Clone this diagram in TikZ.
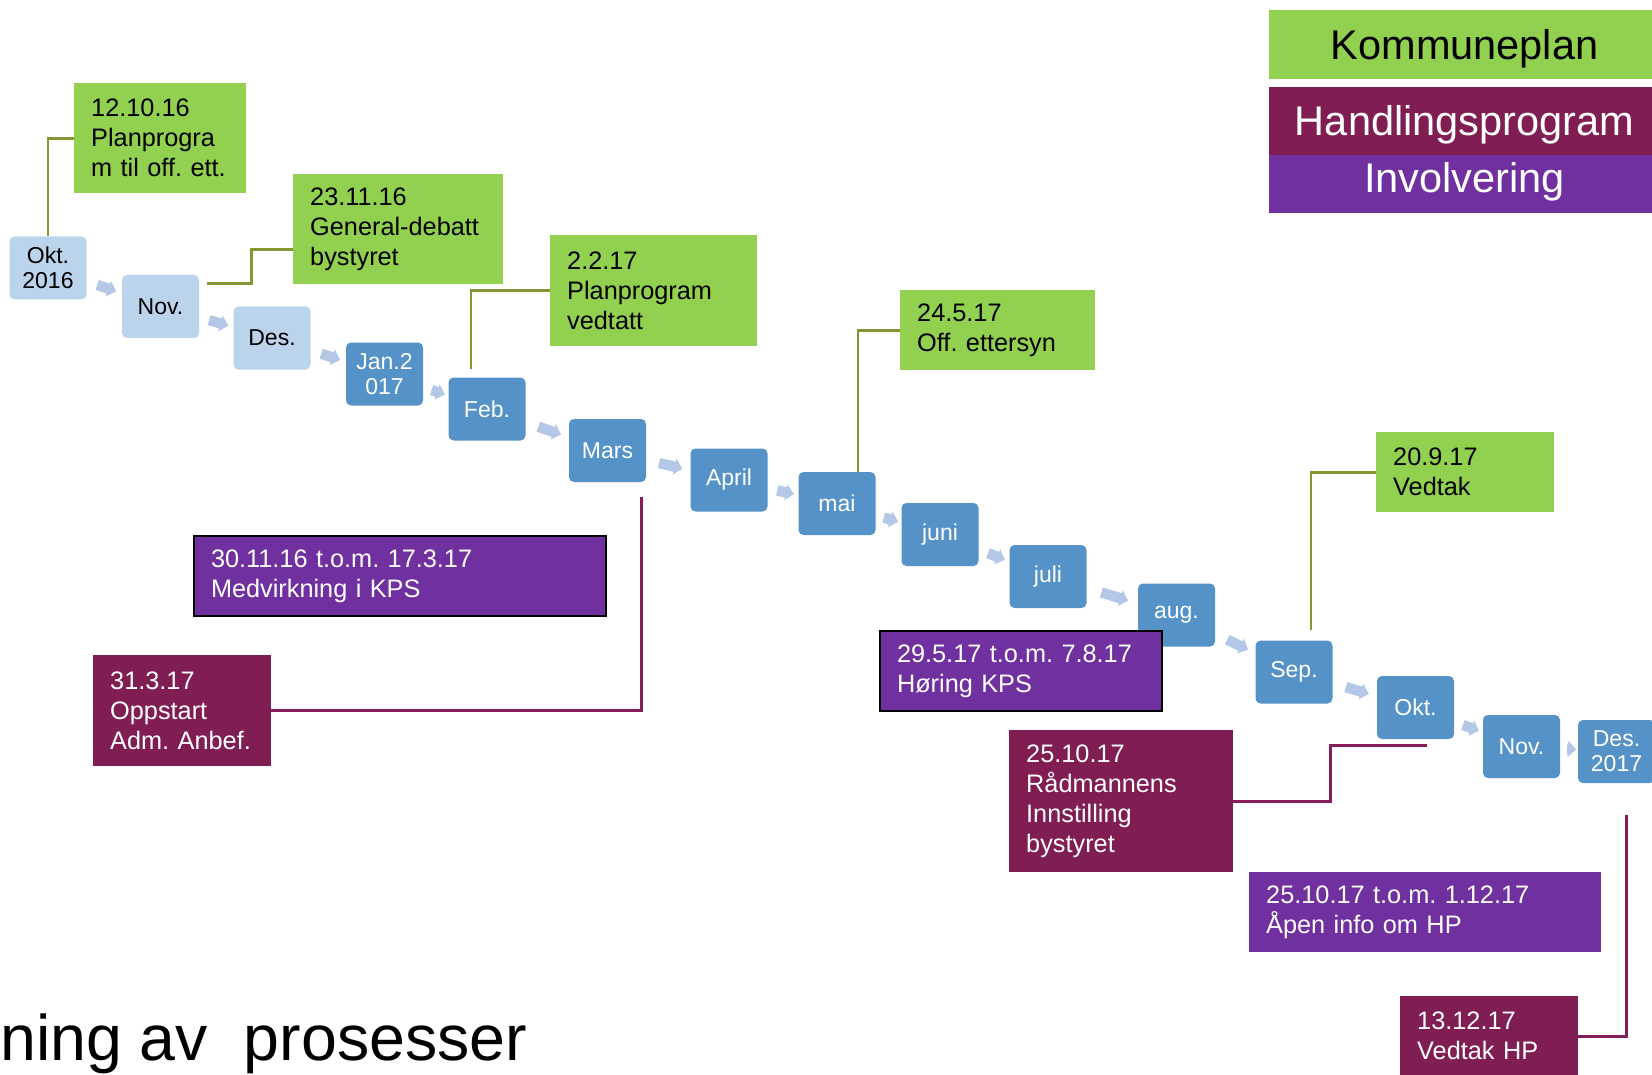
\documentclass[tikz,border=0pt]{standalone}
\usepackage{fontspec}
\setmainfont{Liberation Sans}
\usepackage{tikz}
\usetikzlibrary{shapes.arrows}
\frenchspacing
\hyphenpenalty=10000
\exhyphenpenalty=10000

\definecolor{kpgreen}{RGB}{146,208,80}
\definecolor{hpplum}{RGB}{128,29,83}
\definecolor{invpurple}{RGB}{112,48,160}
\definecolor{monthblue}{RGB}{85,146,200}
\definecolor{monthpale}{RGB}{188,212,235}
\definecolor{flowblue}{RGB}{180,199,231}
\definecolor{kpline}{RGB}{133,150,52}
\definecolor{hpline}{RGB}{136,28,88}

\tikzset{
  month/.style={rounded corners=5pt, fill=monthblue, text=white, minimum width=77pt,
    minimum height=63pt, inner sep=0pt, align=center, font=\fontsize{23}{25}\selectfont},
  pastmonth/.style={month, fill=monthpale, text=black},
  flow/.style={single arrow, single arrow head extend=3pt, minimum width=16pt,
    minimum height=#1, inner xsep=0pt, inner ysep=5pt, fill=flowblue, sloped},
  notebox/.style={anchor=north west, inner xsep=17pt, inner ysep=0pt, align=left,
    font=\fontsize{25.3}{30}\selectfont},
  kpbox/.style={notebox, fill=kpgreen, text=black},
  hpbox/.style={notebox, fill=hpplum, text=white},
  invbox/.style={notebox, fill=invpurple, text=white},
  legendbox/.style={minimum width=391pt, inner sep=0pt, text height=30pt, text depth=0pt,
    font=\fontsize{41.5}{45}\selectfont},
  kplink/.style={kpline, line width=2.8pt},
  hplink/.style={hpline, line width=2.8pt}
}

\begin{document}
\begin{tikzpicture}[x=1pt, y=-1pt]

  \fill[white] (0,0) rectangle (1652,1075);
  \useasboundingbox (0,0) rectangle (1652,1075);

  \node[pastmonth] (m1) at (48,268) {Okt.\\2016};
  \node[pastmonth] (m2) at (160.5,306.5) {Nov.};
  \node[pastmonth] (m3) at (272,338) {Des.};
  \node[month] (m4) at (384.5,374) {Jan.2\\017};
  \node[month] (m5) at (487,409) {Feb.};
  \node[month] (m6) at (607.5,450.5) {Mars};
  \node[month] (m7) at (729,480) {April};
  \node[month] (m8) at (837,503.5) {mai};
  \node[month] (m9) at (940,534.5) {juni};
  \node[month] (m10) at (1048,576.5) {juli};
  \node[month] (m11) at (1176.5,615) {aug.};
  \node[month] (m12) at (1294,672) {Sep.};
  \node[month] (m13) at (1415.5,707.5) {Okt.};
  \node[month] (m14) at (1521.5,746.5) {Nov.};
  \node[month] (m15) at (1616.5,751.5) {Des.\\2017};

  \path (m1) -- node[flow=20pt] {} (m2);
  \path (m2) -- node[flow=20pt] {} (m3);
  \path (m3) -- node[flow=20pt] {} (m4);
  \path (m4) -- node[flow=14pt] {} (m5);
  \path (m5) -- node[flow=24pt] {} (m6);
  \path (m6) -- node[flow=24pt] {} (m7);
  \path (m7) -- node[flow=17pt] {} (m8);
  \path (m8) -- node[flow=15pt] {} (m9);
  \path (m9) -- node[flow=18pt] {} (m10);
  \path (m10) -- node[flow=28pt] {} (m11);
  \path (m11) -- node[flow=23pt] {} (m12);
  \path (m12) -- node[flow=24pt] {} (m13);
  \path (m13) -- node[flow=17pt] {} (m14);
  \path (m14) -- node[flow=9pt] {} (m15);

  \node[kpbox, text width=138pt, minimum height=110pt] (kp1) at (74,83)
    {12.10.16\\Planprogra\\m til off. ett.};
  \node[kpbox, text width=176pt, minimum height=110pt] (kp2) at (293,174)
    {23.11.16\\General-debatt\\bystyret};
  \node[kpbox, text width=173pt, minimum height=111pt] (kp3) at (550,235)
    {2.2.17\\Planprogram\\vedtatt};
  \node[kpbox, text width=161pt, minimum height=80pt] (kp4) at (900,290)
    {24.5.17\\Off. ettersyn};
  \node[kpbox, text width=144pt, minimum height=80pt] (kp5) at (1376,432)
    {20.9.17\\Vedtak};

  \node[invbox, draw=black, line width=2pt, text width=378pt, minimum height=80pt] (inv1) at (193,535)
    {30.11.16 t.o.m. 17.3.17\\Medvirkning i KPS};
  \node[invbox, draw=black, line width=2pt, text width=248pt, minimum height=80pt] (inv2) at (879,630)
    {29.5.17 t.o.m. 7.8.17\\Høring KPS};
  \node[invbox, text width=318pt, minimum height=80pt] (inv3) at (1249,872)
    {25.10.17 t.o.m. 1.12.17\\Åpen info om HP};

  \node[hpbox, text width=144pt, minimum height=111pt] (hp1) at (93,655)
    {31.3.17\\Oppstart\\Adm. Anbef.};
  \node[hpbox, text width=190pt, minimum height=142pt] (hp2) at (1009,730)
    {25.10.17\\Rådmannens\\Innstilling\\bystyret};
  \node[hpbox, text width=144pt, minimum height=80pt] (hp3) at (1400,996)
    {13.12.17\\Vedtak HP};

  \draw[kplink] (m1.north) |- (kp1.west);
  \draw[kplink] ([xshift=8pt,yshift=-9pt]m2.north east) -- ++(44,0) |- ([yshift=-20pt]kp2.west);
  \draw[kplink] ([xshift=-16pt,yshift=8pt]m5.north) |- (kp3.west);
  \draw[kplink] ([xshift=21pt]m8.north) |- (kp4.west);
  \draw[kplink] ([xshift=17pt,yshift=10pt]m12.north) |- (kp5.west);

  \draw[hplink] ([xshift=34pt,yshift=-15pt]m6.south) |- (hp1.east);
  \draw[hplink] ([xshift=11pt,yshift=-6pt]m13.south) -- ++(-96,0) |- (hp2.east);
  \draw[hplink] ([xshift=10pt,yshift=-32pt]m15.south) |- (hp3.east);

  \node[legendbox, fill=kpgreen, text=black, minimum height=69pt] (leg1) at (1464.5,44.5) {Kommuneplan};
  \node[legendbox, fill=hpplum, text=white, minimum height=68pt] (leg2) at (1464.5,121) {Handlingsprogram};
  \node[legendbox, fill=invpurple, text=white, minimum height=58pt, text depth=12pt] (leg3) at (1464.5,184) {Involvering};

  \node[anchor=base west, inner sep=0pt, font=\fontsize{64.5}{70}\selectfont] (title) at (0,1060)
    {ning av\ \ prosesser};

\end{tikzpicture}
\end{document}
